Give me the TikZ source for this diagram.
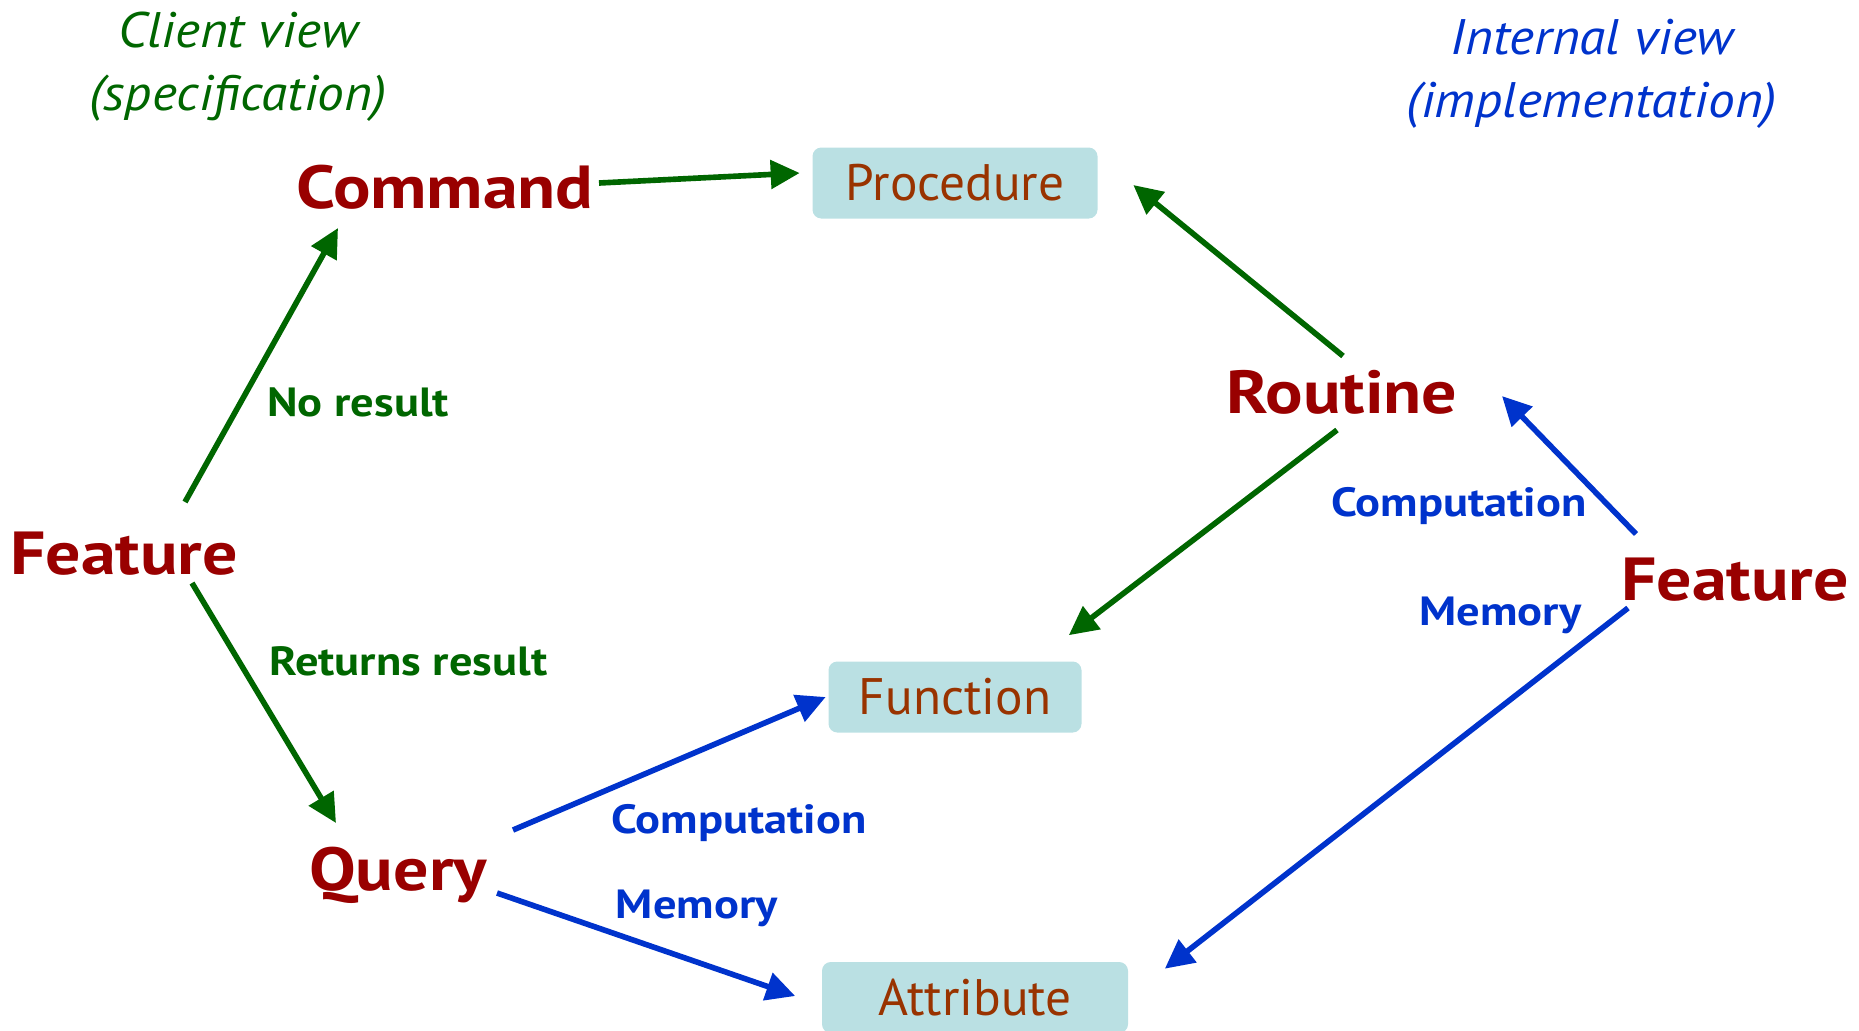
\documentclass[tikz,border=0pt]{standalone}
\usepackage{fontspec}
\setmainfont{PT Sans}
\newfontfamily\termfont[FakeStretch=1.15]{PT Sans}
\newfontfamily\lblfont[FakeStretch=1.14]{PT Sans}
\newfontfamily\viewfont[FakeStretch=1.07]{PT Sans}
\usetikzlibrary{arrows.meta,positioning}
\definecolor{viewgreen}{RGB}{0,102,0}
\definecolor{viewblue}{RGB}{0,51,204}
\definecolor{termred}{RGB}{153,0,0}
\definecolor{kindbrown}{RGB}{153,51,0}
\definecolor{kindfill}{RGB}{186,224,227}

\begin{document}
\begin{tikzpicture}[>={Triangle[length=2.9mm,width=2.8mm]}, line width=1.6pt,
    term/.style={text=termred, anchor=base, inner sep=1pt, font=\termfont\fontsize{17.3}{20}\selectfont\bfseries},
    kind/.style={fill=kindfill, rounded corners=2.5pt, text=kindbrown, inner sep=0pt,
        minimum height=7.1mm, font=\fontsize{14.6}{17}\selectfont},
    lbl/.style={font=\lblfont\fontsize{11.6}{13}\selectfont\bfseries},
    view/.style={align=center, font=\viewfont\fontsize{14.2}{17.9}\selectfont\itshape}]
\useasboundingbox (0,0) rectangle (18.59,-10.30);

% the two views
\node[view, text=viewgreen] (client) at (2.38,-0.67) {Client view\\(specification)};
\node[view, text=viewblue] (internal) at (15.92,-0.74) {Internal view\\(implementation)};

% terms
\node[term] (cmd) at (4.45,-2.08) {Command};
\node[term] (rout) at (13.42,-4.13) {Routine};
\node[term] (featL) at (1.24,-5.74) {Feature};
\node[term] (featR) at (17.35,-6.00) {Feature};
\node[term] (query) at (3.98,-8.90) {Query};

% kinds
\node[kind, minimum width=2.85cm] (proc) at (9.55,-1.83) {Procedure};
\node[kind, minimum width=2.53cm] (func) at (9.55,-6.97) {Function};
\node[kind, minimum width=3.06cm] (attr) at (9.75,-9.975) {Attribute};

% client side
\draw[->, viewgreen] ([shift={(0.61,0.72)}]featL.base) -- node[lbl, right=1.2mm, pos=0.365]{No result} ([shift={(-1.07,-0.20)}]cmd.base);
\draw[->, viewgreen] ([shift={(0.68,-0.09)}]featL.base) -- node[lbl, right=1.6mm, pos=0.325]{Returns result} ([shift={(-0.62,0.67)}]query.base);
\draw[->, viewgreen] ([shift={(1.54,0.25)}]cmd.base) -- ([shift={(-1mm,1mm)}]proc.west);
\draw[->, viewblue] ([shift={(1.15,0.60)}]query.base) -- node[lbl, below right, pos=0.3, xshift=-1mm]{Computation} (func.west);
\draw[->, viewblue] ([shift={(0.99,-0.03)}]query.base) -- node[lbl, above=2.1mm, pos=0.67]{Memory} ([shift={(-0.24,0.015)}]attr.west);

% internal side
\draw[->, viewgreen] ([shift={(0.01,0.57)}]rout.base) -- ([shift={(0.33,-0.02)}]proc.east);
\draw[->, viewgreen] ([shift={(-0.05,-0.17)}]rout.base) -- ([shift={(-0.155,0.235)}]func.north east);
\draw[->, viewblue] ([shift={(-0.99,0.66)}]featR.base) -- node[lbl, left=0.8mm, pos=0.2]{Computation} ([shift={(1.60,0.17)}]rout.base);
\draw[->, viewblue] ([shift={(-1.07,-0.08)}]featR.base) -- node[lbl, left=2.3mm, pos=0.02]{Memory} ([shift={(0.34,-0.095)}]attr.north east);
\end{tikzpicture}
\end{document}
